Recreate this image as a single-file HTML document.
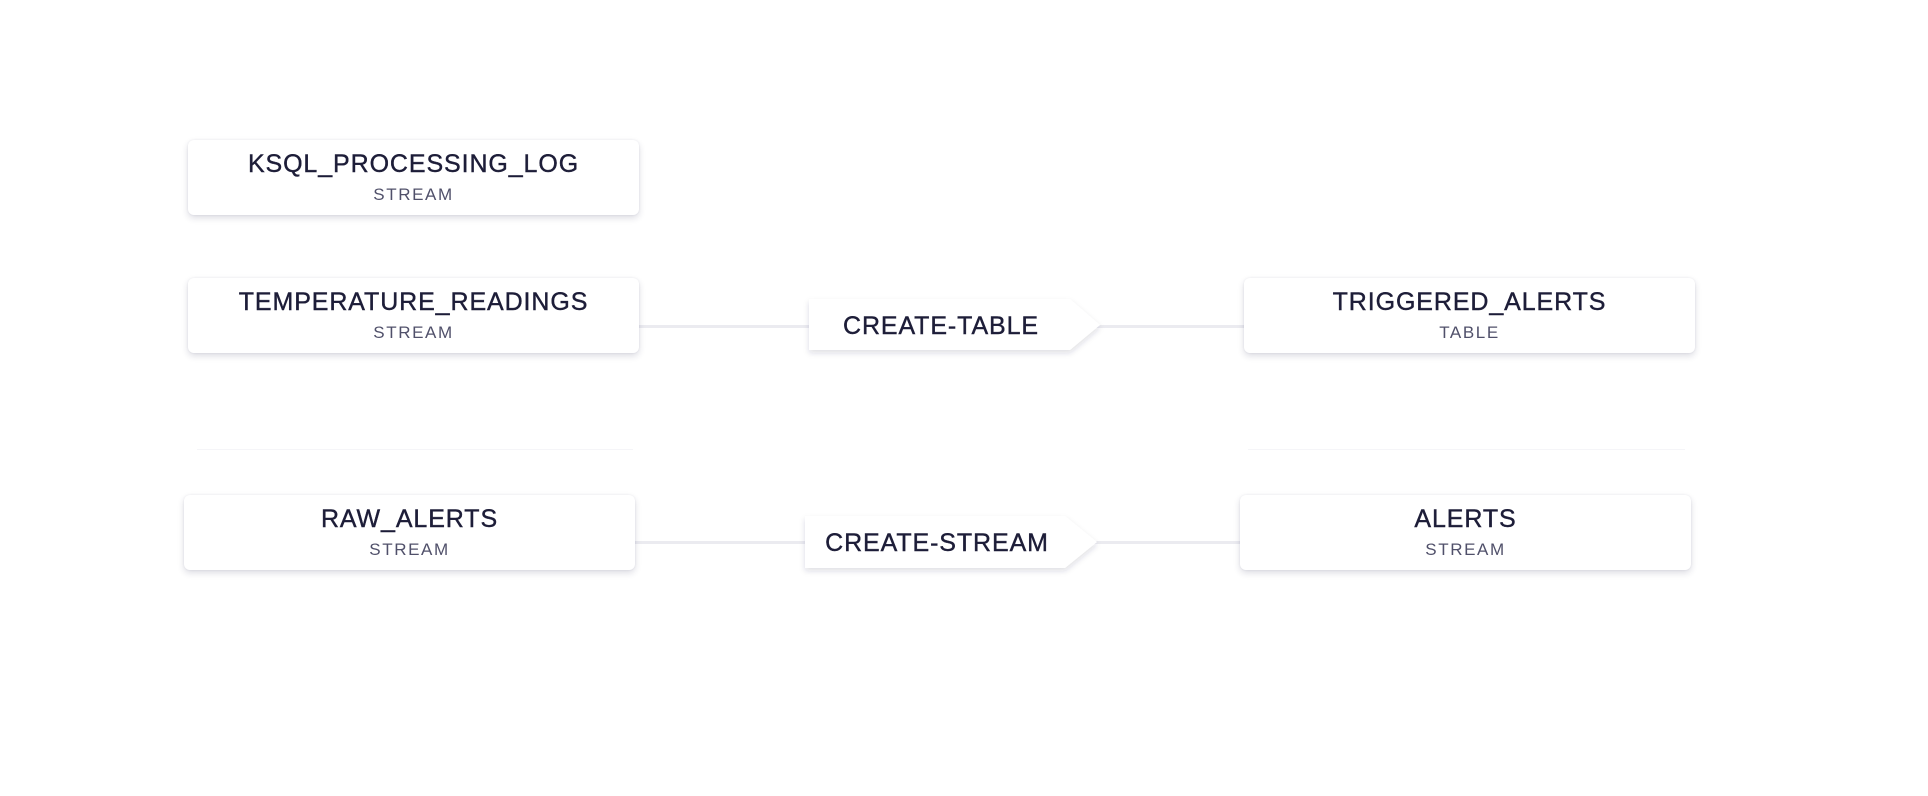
<!DOCTYPE html>
<html><head><style>
body{margin:0;width:1928px;height:796px;background:#fff;position:relative;overflow:hidden;font-family:"Liberation Sans",sans-serif;}
.n{position:absolute;width:451px;height:75px;background:#fff;border-radius:6px;box-shadow:0 3px 7px rgba(40,40,80,0.16),0 0 2px rgba(40,40,80,0.08);text-align:center;}
.t{position:absolute;left:0;right:0;top:10px;font-size:25px;color:#1d1d38;letter-spacing:0.9px;-webkit-text-stroke:0.4px #1d1d38;}
.s{position:absolute;left:0;right:0;top:45px;font-size:17px;color:#50506a;letter-spacing:1.6px;}
.l{position:absolute;height:3px;background:#ebebf0;}
.f{position:absolute;height:1px;background:#f5f5f8;}
svg{position:absolute;overflow:visible}
</style></head><body>
<div class="l" style="left:637px;top:325px;width:180px"></div>
<div class="l" style="left:1095px;top:325px;width:150px"></div>
<div class="l" style="left:632px;top:541px;width:180px"></div>
<div class="l" style="left:1092px;top:541px;width:150px"></div>
<div class="f" style="left:197px;top:449px;width:436px"></div>
<div class="f" style="left:1248px;top:449px;width:437px"></div>

<div class="n" style="left:188px;top:140px"><div class="t">KSQL_PROCESSING_LOG</div><div class="s">STREAM</div></div>
<div class="n" style="left:188px;top:278px"><div class="t">TEMPERATURE_READINGS</div><div class="s">STREAM</div></div>
<div class="n" style="left:1244px;top:278px"><div class="t">TRIGGERED_ALERTS</div><div class="s">TABLE</div></div>
<div class="n" style="left:184px;top:495px"><div class="t">RAW_ALERTS</div><div class="s">STREAM</div></div>
<div class="n" style="left:1240px;top:495px"><div class="t">ALERTS</div><div class="s">STREAM</div></div>

<svg style="left:0;top:0" width="1928" height="796">
<defs><filter id="sh" x="-10%" y="-30%" width="120%" height="160%"><feDropShadow dx="0" dy="3" stdDeviation="3" flood-color="#282850" flood-opacity="0.15"/></filter></defs>
<polygon points="809,299 1070,299 1100,325 1070,350 809,350" fill="#fff" filter="url(#sh)"/>
<text x="941" y="334" text-anchor="middle" font-family="Liberation Sans, sans-serif" font-size="25" fill="#1d1d38" stroke="#1d1d38" stroke-width="0.4" letter-spacing="0.9">CREATE-TABLE</text>
<polygon points="805,516 1065,516 1097,542 1065,568 805,568" fill="#fff" filter="url(#sh)"/>
<text x="937" y="551" text-anchor="middle" font-family="Liberation Sans, sans-serif" font-size="25" fill="#1d1d38" stroke="#1d1d38" stroke-width="0.4" letter-spacing="0.9">CREATE-STREAM</text>
</svg>
</body></html>
